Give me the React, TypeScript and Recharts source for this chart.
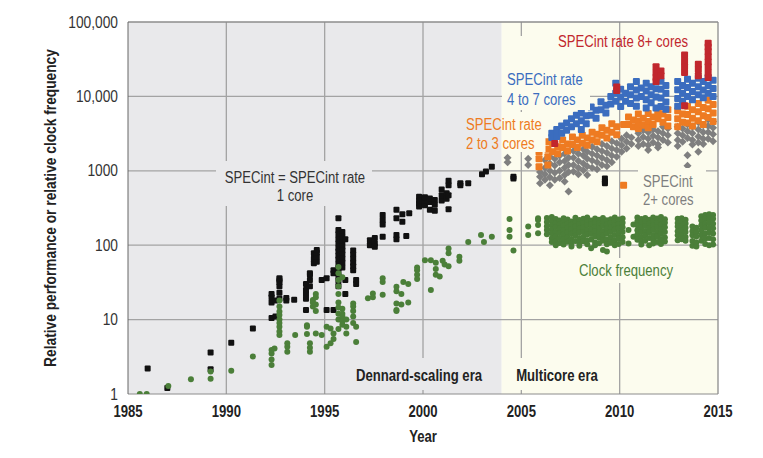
import React from "react";
import {
  ScatterChart,
  Scatter,
  XAxis,
  YAxis,
  ReferenceArea,
  ReferenceLine,
} from "recharts";

// no condensed font is installed, so Liberation Sans is squeezed horizontally
const FONT = "'Liberation Sans', Arial, sans-serif";
const SQUEEZE = 0.82;

const YEAR_TICKS = [1985, 1990, 1995, 2000, 2005, 2010, 2015];
const VALUE_TICKS = [1, 10, 100, 1000, 10000, 100000];
const GRID_YEARS = [1990, 1995, 2000, 2005, 2010];
const GRID_VALUES = [10, 100, 1000, 10000];

// [year, values at that year]
type Col = [number, number[]];

// SPECint = SPECint rate, 1 core
const ONE_CORE: Col[] = [
  [1986.0, [2.2]],
  [1987.0, [1.2]],
  [1989.2, [3.6, 2.15]],
  [1990.25, [4.9]],
  [1991.35, [7.6]],
  [1992.3, [10.5, 17, 20, 22]],
  [1992.5, [11, 18]],
  [1992.7, [19, 23, 28, 32, 34, 36]],
  [1993.05, [18, 19.5]],
  [1993.45, [18.5]],
  [1994.05, [13.5, 19, 22, 25, 30]],
  [1994.25, [28, 34, 40, 42]],
  [1994.45, [57, 66, 78]],
  [1994.6, [60, 70, 80, 86]],
  [1994.85, [34]],
  [1995.1, [13.5, 36]],
  [1995.45, [13.5, 42, 46]],
  [1995.7, [230, 160, 140, 120, 105, 92, 82, 72, 64, 56, 49, 43, 38, 33, 28]],
  [1995.9, [150, 130, 110, 95, 85, 75, 66, 58, 50]],
  [1996.05, [34, 22, 120]],
  [1996.45, [85, 75, 66, 58, 52, 46]],
  [1996.6, [34, 30]],
  [1997.3, [117, 100]],
  [1997.55, [105, 95, 125]],
  [1997.95, [254, 218, 190, 130]],
  [1998.65, [300, 230, 137, 120]],
  [1998.95, [206, 260]],
  [1999.15, [133]],
  [1999.3, [268]],
  [1999.8, [448, 364, 330, 395]],
  [2000.1, [345, 400, 440]],
  [2000.35, [380, 425, 300]],
  [2000.6, [405, 290, 350]],
  [2000.95, [560, 400, 470]],
  [2001.2, [500, 420]],
  [2001.3, [735, 470, 305, 640]],
  [2001.9, [680, 640]],
  [2002.3, [680]],
  [2003.0, [900]],
  [2003.2, [975]],
  [2003.5, [1130]],
  [2004.6, [790, 830]],
  [2009.25, [790, 720, 680]],
];

// clock frequency, single-core era
const CLOCK_SINGLE: Col[] = [
  [1985.6, [1.0]],
  [1985.95, [1.0]],
  [1987.05, [1.28]],
  [1988.2, [1.58]],
  [1989.2, [2.0, 1.6]],
  [1990.25, [2.05]],
  [1991.35, [3.2]],
  [1992.3, [2.45, 2.9, 3.5, 3.9]],
  [1992.45, [4.1]],
  [1992.7, [18, 15, 12.8, 11.5, 10, 9, 8, 6.9, 6.2]],
  [1993.1, [3.7, 4.3, 4.8]],
  [1993.5, [6.2]],
  [1994.1, [8.4, 6.4, 8]],
  [1994.25, [4.8, 4.2, 3.7]],
  [1994.4, [18.3, 15, 17]],
  [1994.55, [22, 20, 16, 13, 6.5]],
  [1994.85, [6.2]],
  [1995.1, [4.3, 8.0]],
  [1995.3, [4.8, 7.6]],
  [1995.45, [6.5, 5.5]],
  [1995.7, [51, 42, 34, 28, 22, 17, 14.5, 12, 10, 7.5]],
  [1995.9, [37, 14, 12, 11, 9.5, 8.5]],
  [1996.1, [8, 6.5, 10]],
  [1996.45, [16.5, 15, 13, 11, 9]],
  [1996.6, [8, 5]],
  [1997.2, [19.3]],
  [1997.45, [22.5, 20]],
  [1997.95, [21.6, 36, 32]],
  [1998.65, [27.6, 24, 16.5, 13.5, 13]],
  [1998.9, [22, 16]],
  [1999.0, [32]],
  [1999.25, [30, 17]],
  [1999.7, [46, 50, 40, 35]],
  [2000.1, [63]],
  [2000.4, [63, 25]],
  [2000.65, [58, 48, 40]],
  [2000.85, [38]],
  [2001.0, [62]],
  [2001.1, [55]],
  [2001.3, [52, 90, 78]],
  [2001.85, [70, 62]],
  [2002.3, [110]],
  [2002.95, [137]],
  [2003.1, [110]],
  [2003.5, [130]],
  [2004.4, [225, 160, 130]],
  [2004.6, [85]],
];

// clock frequency, multicore era
const CLOCK_MULTI: Col[] = [
  [2005.35, [178, 137]],
  [2005.85, [230, 218, 187, 145]],
  [2006.3, [232, 205, 180, 160, 140]],
  [2006.55, [240, 212, 185, 163, 145, 124, 110]],
  [2006.75, [225, 198, 176, 150, 131, 112, 100]],
  [2006.95, [215, 192, 166, 146, 125, 107]],
  [2007.15, [230, 203, 182, 157, 139, 118, 102]],
  [2007.35, [221, 194, 171, 149, 127, 111]],
  [2007.55, [209, 189, 163, 143, 121, 105, 96]],
  [2007.75, [233, 204, 179, 154, 136, 114]],
  [2007.95, [218, 193, 167, 149, 125, 108, 98]],
  [2008.15, [226, 197, 173, 151, 129, 113]],
  [2008.35, [236, 209, 186, 159, 139, 117, 103]],
  [2008.55, [214, 191, 164, 141, 119, 91]],
  [2008.75, [228, 201, 174, 153, 131, 109, 100]],
  [2008.95, [219, 196, 169, 147, 126, 106]],
  [2009.15, [232, 204, 181, 154, 134, 115, 86]],
  [2009.35, [216, 189, 166, 143, 119, 82, 103]],
  [2009.55, [224, 199, 171, 151, 127, 108]],
  [2009.75, [235, 209, 186, 161, 137, 116, 100]],
  [2009.95, [221, 191, 169, 144, 123, 104]],
  [2010.15, [229, 201, 174, 151, 128, 110]],
  [2010.45, [160, 105]],
  [2010.7, [190, 130]],
  [2010.9, [236, 209, 186, 159, 139, 118]],
  [2011.1, [225, 201, 174, 151, 129, 112, 102]],
  [2011.3, [232, 204, 181, 154, 136, 115]],
  [2011.5, [219, 196, 169, 149, 125, 100]],
  [2011.7, [235, 211, 184, 161, 137, 119, 105]],
  [2011.9, [228, 199, 176, 151, 131, 110]],
  [2012.1, [240, 214, 189, 161, 141, 120, 104]],
  [2012.3, [224, 201, 174, 151, 127, 112]],
  [2012.95, [226, 199, 179, 154, 136, 117]],
  [2013.15, [230, 206, 179, 159, 137, 120]],
  [2013.35, [219, 196, 171, 151, 129, 115]],
  [2013.7, [178, 154, 136, 114, 98]],
  [2013.9, [171, 149, 131, 109, 96]],
  [2014.15, [245, 214, 186, 159, 136, 115]],
  [2014.35, [255, 226, 194, 171, 144, 122, 104]],
  [2014.55, [260, 229, 201, 171, 149, 125, 100]],
  [2014.75, [254, 226, 194, 169, 144, 120, 102]],
];

// SPECint, 2+ cores
const MULTI_2PLUS: Col[] = [
  [2004.3, [1500, 1300]],
  [2005.35, [1450, 1200]],
  [2005.95, [960, 830, 680]],
  [2006.2, [1400, 1100, 900, 760]],
  [2006.45, [1550, 1250, 1000, 820, 640]],
  [2006.7, [1450, 1180, 940, 760]],
  [2006.95, [1600, 1300, 1000, 800]],
  [2007.2, [1700, 1350, 1100, 880, 720]],
  [2007.4, [1500, 1200, 960, 525]],
  [2007.65, [1850, 1500, 1200, 980]],
  [2007.9, [1700, 1350, 1100, 900]],
  [2008.15, [1950, 1600, 1250, 1020]],
  [2008.35, [1800, 1450, 1150, 880]],
  [2008.6, [2100, 1700, 1380, 1100]],
  [2008.85, [1950, 1600, 1300, 1050]],
  [2009.1, [2300, 1850, 1500, 1200]],
  [2009.35, [2150, 1750, 1400, 1150]],
  [2009.6, [2500, 2000, 1600, 1300]],
  [2009.85, [2350, 1900, 1550]],
  [2010.1, [2700, 2200, 1800]],
  [2010.35, [3000, 2450, 2000]],
  [2010.6, [2800, 2300]],
  [2010.95, [3200, 2600, 2150]],
  [2011.2, [3500, 2850, 2300]],
  [2011.45, [3300, 2700, 2200, 1900]],
  [2011.7, [3600, 2950, 2400]],
  [2011.95, [3400, 2800, 2250, 2050]],
  [2012.2, [3900, 3200, 2600]],
  [2012.45, [3700, 3000, 2400]],
  [2012.95, [3900, 3200, 2600, 2150]],
  [2013.2, [3700, 3000, 2450]],
  [2013.45, [4200, 3400, 2750, 1620, 1170]],
  [2013.7, [3900, 3200, 2600, 2250]],
  [2014.0, [4500, 3600, 2900, 2400, 1800]],
  [2014.25, [4100, 3300, 2700, 2300]],
  [2014.5, [4900, 4000, 3300, 2700]],
  [2014.75, [4600, 3800, 3100, 2500]],
];

// SPECint rate, 2 to 3 cores
const MULTI_2TO3: Col[] = [
  [2005.9, [1800, 1450, 1130]],
  [2006.35, [2450, 1950, 1550, 1200]],
  [2006.6, [2330, 1800]],
  [2006.85, [2100, 1700]],
  [2007.1, [2600, 2050]],
  [2007.35, [2300, 1850]],
  [2007.6, [2850, 2250]],
  [2007.85, [2600, 2050]],
  [2008.1, [3000, 2350]],
  [2008.35, [2750, 2200]],
  [2008.6, [3300, 2600]],
  [2008.85, [3100, 2450]],
  [2009.1, [3800, 3000]],
  [2009.35, [3500, 2750]],
  [2009.6, [4300, 3300]],
  [2009.85, [3900, 3050]],
  [2010.2, [4200, 640]],
  [2010.45, [5300, 4200]],
  [2010.7, [4800, 3900]],
  [2010.95, [5800, 4600, 3700]],
  [2011.2, [5100, 4100]],
  [2011.45, [5900, 4600, 3800]],
  [2011.7, [5300, 4200]],
  [2011.95, [6400, 5000, 5900]],
  [2012.2, [5800, 4500]],
  [2012.45, [6600, 5200, 4000]],
  [2012.95, [6400, 5000, 3900]],
  [2013.2, [5800, 4500]],
  [2013.45, [7400, 5700, 4400]],
  [2013.7, [6600, 5100, 4000]],
  [2014.0, [8000, 6200, 4700]],
  [2014.25, [7100, 5500, 4200]],
  [2014.5, [8900, 6800, 5200]],
  [2014.75, [7800, 6000, 4600]],
];

// SPECint rate, 4 to 7 cores
const MULTI_4TO7: Col[] = [
  [2006.55, [3200, 2800]],
  [2006.8, [3600, 2900]],
  [2007.05, [4000, 3200]],
  [2007.3, [4400, 3500]],
  [2007.55, [5000, 3900]],
  [2007.8, [5600, 4300]],
  [2008.05, [6000, 4700, 3600]],
  [2008.3, [5500, 4300]],
  [2008.55, [7200, 5600]],
  [2008.8, [6500, 5100]],
  [2009.05, [8500, 6600]],
  [2009.3, [7600, 6000]],
  [2009.55, [10000, 7900]],
  [2009.8, [15000, 11000, 8600]],
  [2010.05, [12500, 9800, 7300]],
  [2010.3, [11000, 8600]],
  [2010.55, [13500, 10500, 8000]],
  [2010.85, [15800, 12200, 9500, 7400]],
  [2011.1, [13000, 10000]],
  [2011.35, [15000, 11800, 9000, 7000]],
  [2011.6, [13500, 10500, 8200]],
  [2011.85, [12700, 9800, 7000]],
  [2012.1, [16000, 12500, 9500, 7300]],
  [2012.35, [14000, 11000, 8400, 6700]],
  [2012.95, [15800, 12300, 9400, 7400]],
  [2013.2, [14000, 11000, 8600]],
  [2013.45, [17000, 13200, 10000]],
  [2013.7, [15000, 11600, 9000]],
  [2014.0, [17500, 13500, 10500]],
  [2014.25, [15800, 12200, 9600]],
  [2014.5, [17800, 14000, 11000]],
  [2014.75, [16500, 12800, 10000]],
];

// SPECint rate, 8+ cores
const MULTI_8PLUS: Col[] = [
  [2006.7, [2330]],
  [2009.85, [13400, 12000]],
  [2011.85, [25000, 21000, 18000, 15800]],
  [2012.1, [22000, 19000]],
  [2013.3, [36000, 30000, 25000, 21000, 7500]],
  [2014.0, [27000, 23000, 19000]],
  [2014.5, [52000, 46000, 40000, 34000, 29000, 25000, 21000, 18000]],
];

const flat = (cols: Col[]) =>
  cols.flatMap(([year, vals]) => vals.map((v) => ({ year, v })));

const square = (s: number, color: string) => (p: any) =>
  <rect x={p.cx - s / 2} y={p.cy - s / 2} width={s} height={s} rx={1} fill={color} />;
const dot = (r: number, color: string) => (p: any) =>
  <circle cx={p.cx} cy={p.cy} r={r} fill={color} />;
const diamond = (s: number, color: string) => (p: any) => (
  <path
    d={`M${p.cx},${p.cy - s}L${p.cx + s},${p.cy}L${p.cx},${p.cy + s}L${p.cx - s},${p.cy}Z`}
    fill={color}
  />
);

const GRAY_BG = "#e9e9eb";
const YELLOW_BG = "#fcfcee";
const GRID = "#a3a3a3";

const fmtValue = (v: number) =>
  v >= 10000 ? v.toLocaleString("en-US") : String(v);

// condensed-looking text
function NText({ x, y, anchor = "start", squeeze = SQUEEZE, children, ...rest }: any) {
  return (
    <text
      transform={`translate(${x},${y}) scale(${squeeze},1)`}
      textAnchor={anchor}
      fontFamily={FONT}
      fontSize={16}
      {...rest}
    >
      {children}
    </text>
  );
}

const XTick = (p: any) => (
  <NText x={p.x} y={p.y} anchor="middle" dy="0.71em" fontWeight={700} fill="#222">
    {p.payload.value}
  </NText>
);
const YTick = (p: any) => (
  <NText x={p.x} y={p.y} anchor="end" dy="0.355em" squeeze={0.86} fill="#333">
    {fmtValue(p.payload.value)}
  </NText>
);

export default function App() {
  return (
    <div style={{ position: "absolute", left: 0, top: 0, width: 763, height: 458, background: "#fff" }}>
      <ScatterChart
        width={763}
        height={458}
        margin={{ top: 22, right: 45, bottom: 0, left: 0 }}
      >
        <XAxis
          dataKey="year"
          type="number"
          domain={[1985, 2015]}
          ticks={YEAR_TICKS}
          allowDataOverflow
          height={64}
          tickLine={false}
          tickMargin={6}
          axisLine={{ stroke: "#8c8c8c" }}
          tick={<XTick />}
        />
        <YAxis
          dataKey="v"
          type="number"
          scale="log"
          domain={[1, 100000]}
          ticks={VALUE_TICKS}
          allowDataOverflow
          width={128}
          tickLine={false}
          tickMargin={4}
          axisLine={{ stroke: "#666" }}
          tick={<YTick />}
        />

        <ReferenceArea x1={1985} x2={2004} y1={1} y2={100000} fill={GRAY_BG} fillOpacity={1} stroke="none" />
        <ReferenceArea x1={2004} x2={2015} y1={1} y2={100000} fill={YELLOW_BG} fillOpacity={1} stroke="none" />

        {GRID_YEARS.map((y) => (
          <ReferenceLine key={"gx" + y} x={y} stroke={GRID} strokeWidth={1.3} />
        ))}
        {GRID_VALUES.map((v) => (
          <ReferenceLine key={"gy" + v} y={v} stroke={GRID} strokeWidth={1.3} />
        ))}
        <ReferenceLine y={100000} stroke="#8c8c8c" strokeWidth={1.3} />
        <ReferenceLine x={2015} stroke="#8c8c8c" strokeWidth={1.3} />

        <Scatter data={flat(ONE_CORE)} shape={square(6, "#111")} isAnimationActive={false} />
        <Scatter data={flat(CLOCK_SINGLE)} shape={dot(3, "#4b7f39")} isAnimationActive={false} />
        <Scatter data={flat(MULTI_2PLUS)} shape={diamond(4, "#7f7f7f")} isAnimationActive={false} />
        <Scatter data={flat(MULTI_2TO3)} shape={square(7, "#ee7b22")} isAnimationActive={false} />
        <Scatter data={flat(MULTI_4TO7)} shape={square(7, "#3b6dbf")} isAnimationActive={false} />
        <Scatter data={flat(MULTI_8PLUS)} shape={square(7, "#c1272d")} isAnimationActive={false} />
        <Scatter data={flat(CLOCK_MULTI)} shape={dot(3, "#4b7f39")} isAnimationActive={false} />
      </ScatterChart>

      <svg
        width={763}
        height={458}
        style={{ position: "absolute", left: 0, top: 0, pointerEvents: "none" }}
      >
        {/* label backgrounds that break the grid lines */}
        <rect x={216} y={161} width={156} height={45} fill={GRAY_BG} />
        <rect x={502} y={36} width={88} height={74} fill={YELLOW_BG} />
        <rect x={463} y={112} width={38.5} height={40} fill={GRAY_BG} />
        <rect x={501.5} y={112} width={44} height={40} fill={YELLOW_BG} />
        <rect x={638} y={168} width={68} height={42} fill={YELLOW_BG} />
        <rect x={582} y={258} width={90} height={25} fill={YELLOW_BG} />
        <rect x={350} y={358} width={138} height={32} fill={GRAY_BG} />
        <rect x={510} y={358} width={94} height={32} fill={YELLOW_BG} />

        <NText x={295} y={183} anchor="middle" fill="#333">SPECint = SPECint rate</NText>
        <NText x={295} y={201} anchor="middle" fill="#333">1 core</NText>

        <NText x={558} y={47} fill="#c1272d">SPECint rate 8+ cores</NText>
        <NText x={507} y={85} fill="#3b6dbf">SPECint rate</NText>
        <NText x={507} y={105} fill="#3b6dbf">4 to 7 cores</NText>
        <NText x={466} y={130} fill="#ee7b22">SPECint rate</NText>
        <NText x={466} y={149} fill="#ee7b22">2 to 3 cores</NText>
        <NText x={643} y={187} fill="#7f7f7f">SPECint</NText>
        <NText x={643} y={205} fill="#7f7f7f">2+ cores</NText>
        <NText x={626} y={276} anchor="middle" fill="#4b7f39">Clock frequency</NText>

        <NText x={419} y={381} anchor="middle" fontWeight={700} fill="#222">Dennard-scaling era</NText>
        <NText x={557} y={381} anchor="middle" fontWeight={700} fill="#222">Multicore era</NText>

        <NText x={423} y={442} anchor="middle" fontWeight={700} fill="#222">Year</NText>
        <text
          transform="translate(50,208) rotate(-90) scale(0.86,1)"
          textAnchor="middle"
          dominantBaseline="central"
          fontFamily={FONT}
          fontWeight={700}
          fontSize={16}
          fill="#222"
        >
          Relative performance or relative clock frequency
        </text>
      </svg>
    </div>
  );
}
